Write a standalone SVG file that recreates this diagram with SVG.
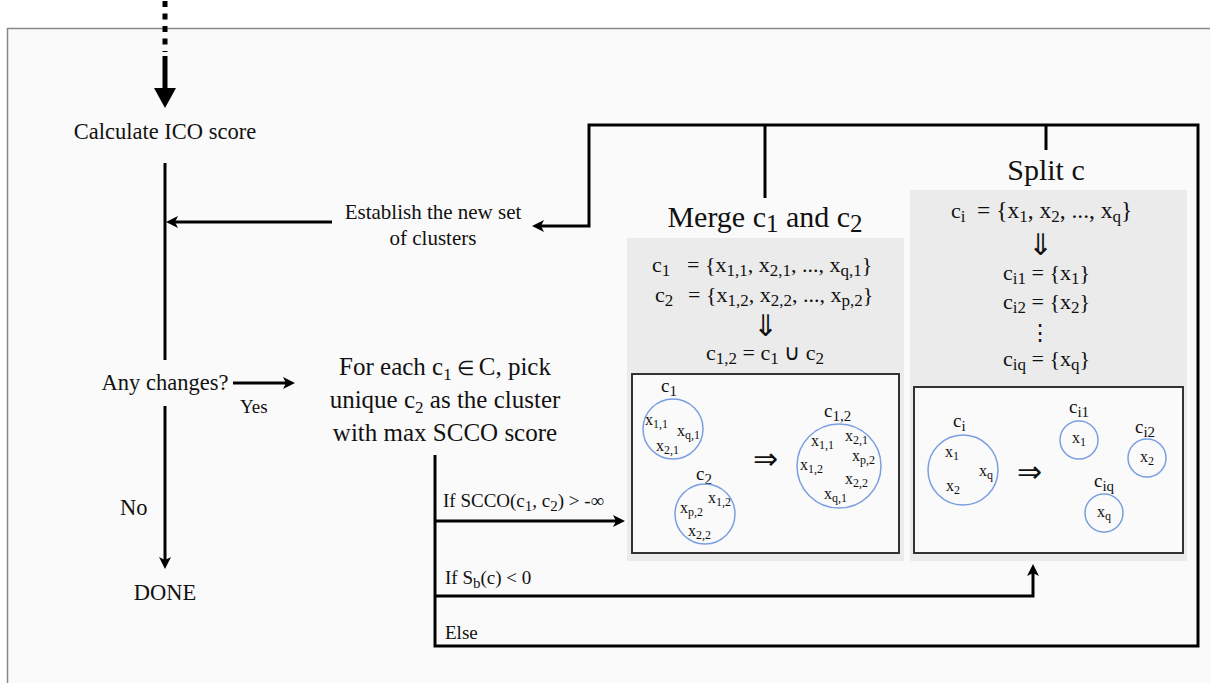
<svg xmlns="http://www.w3.org/2000/svg" width="1210" height="683" viewBox="0 0 1210 683">
<defs>
<marker id="ah" viewBox="0 0 12 12" refX="4" refY="6" markerWidth="12" markerHeight="12" markerUnits="userSpaceOnUse" orient="auto"><path d="M0,0 L12,6 L0,12 L3,6 z" fill="#000"/></marker>
</defs>
<style>
text{font-family:"Liberation Serif","Times New Roman",serif;fill:#111}
.t22{font-size:22.5px}
.t21{font-size:21px}
.t25{font-size:25px}
.t19{font-size:19px}
.t30{font-size:30px}
.f22{font-size:22px}
.f24{font-size:23.5px}
.dar{font-size:30px}
.s{font-size:17px}
.s15{font-size:15px}
.c19{font-size:19px}
.x15{font-size:16px}
.x11{font-size:12px}
.ln{fill:none;stroke:#000;stroke-width:3}
.panel{fill:#ebebeb}
.inner{fill:#fafafa;stroke:#333;stroke-width:2}
.cl{fill:none;stroke:#7a9fe0;stroke-width:1.5}
</style>
<rect x="7.5" y="28.5" width="1210" height="660" fill="#fafafa" stroke="#888" stroke-width="1.5"/>

<g id="connectors">
<path d="M165 1 V52" fill="none" stroke="#000" stroke-width="5" stroke-dasharray="6 6.5"/>
<path d="M165 56 V92" fill="none" stroke="#000" stroke-width="5"/>
<polygon points="154,88 176,88 165,108" fill="#000"/>
<path class="ln" d="M165 163 V360"/>
<path class="ln" d="M332 222 H174" marker-end="url(#ah)"/>
<path class="ln" d="M765 125 V198"/>
<path class="ln" d="M1046 125 V150"/>
<path class="ln" d="M435 455 V646 H1198 V125 H589 V226 H540" marker-end="url(#ah)"/>
<path class="ln" d="M233 383 H287" marker-end="url(#ah)"/>
<path class="ln" d="M165 406 V561" marker-end="url(#ah)"/>
<path class="ln" d="M435 521 H617" marker-end="url(#ah)"/>
<path class="ln" d="M435 596 H1033 V572" marker-end="url(#ah)"/>
</g>

<g id="calc"><text class="t22" x="165" y="139" text-anchor="middle">Calculate ICO score</text></g>
<g id="establish">
<text class="t21" x="433" y="219" text-anchor="middle">Establish the new set</text>
<text class="t21" x="433" y="245" text-anchor="middle">of clusters</text>
</g>
<g id="changes"><text class="t22" x="165" y="390" text-anchor="middle">Any changes?</text></g>
<g id="yes"><text class="t19" x="240" y="413">Yes</text></g>
<g id="no"><text class="t22" x="120" y="515">No</text></g>
<g id="done"><text class="t22" x="165" y="600" text-anchor="middle">DONE</text></g>
<g id="foreach">
<text class="t25" x="445" y="375" text-anchor="middle">For each c<tspan class="s" dy="5">1</tspan><tspan dy="-5" font-size="20px"> ∈ </tspan>C, pick</text>
<text class="t25" x="445" y="408" text-anchor="middle">unique c<tspan class="s" dy="5">2</tspan><tspan dy="-5"> as the cluster</tspan></text>
<text class="t25" x="445" y="441" text-anchor="middle">with max SCCO score</text>
</g>
<g id="branch-labels">
<text class="t19" x="443" y="507">If SCCO(c<tspan class="s15" dy="4">1</tspan><tspan dy="-4">, c</tspan><tspan class="s15" dy="4">2</tspan><tspan dy="-4">) &gt; -∞</tspan></text>
<text class="t19" x="445" y="584">If S<tspan class="s15" dy="4">b</tspan><tspan dy="-4">(c) &lt; 0</tspan></text>
<text class="t19" x="445" y="639">Else</text>
</g>

<g id="merge">
<text class="t30" x="765" y="227" text-anchor="middle">Merge c<tspan font-size="25px" dy="5">1</tspan><tspan dy="-5"> and c</tspan><tspan font-size="25px" dy="5">2</tspan></text>
<rect class="panel" x="627" y="238" width="277" height="323"/>
<text class="f22" x="652" y="272">c<tspan class="s" dy="4">1</tspan></text>
<text class="f22" x="687" y="272">= {x<tspan class="s" dy="4">1,1</tspan><tspan dy="-4">, x</tspan><tspan class="s" dy="4">2,1</tspan><tspan dy="-4">, ..., x</tspan><tspan class="s" dy="4">q,1</tspan><tspan dy="-4">}</tspan></text>
<text class="f22" x="655" y="302">c<tspan class="s" dy="4">2</tspan></text>
<text class="f22" x="688" y="302">= {x<tspan class="s" dy="4">1,2</tspan><tspan dy="-4">, x</tspan><tspan class="s" dy="4">2,2</tspan><tspan dy="-4">, ..., x</tspan><tspan class="s" dy="4">p,2</tspan><tspan dy="-4">}</tspan></text>
<text class="dar" x="765" y="336" text-anchor="middle">⇓</text>
<text class="f22" x="765" y="360" text-anchor="middle">c<tspan class="s" dy="4">1,2</tspan><tspan dy="-4"> = c</tspan><tspan class="s" dy="4">1</tspan><tspan dy="-4"> ∪ c</tspan><tspan class="s" dy="4">2</tspan></text>
<rect class="inner" x="632" y="374" width="267" height="179"/>
<text class="c19" x="661" y="392">c<tspan class="s15" dy="4">1</tspan></text>
<circle class="cl" cx="673" cy="429" r="30"/>
<text class="x15" x="645" y="425">x<tspan class="x11" dy="3">1,1</tspan></text>
<text class="x15" x="677" y="436">x<tspan class="x11" dy="3">q,1</tspan></text>
<text class="x15" x="656" y="451">x<tspan class="x11" dy="3">2,1</tspan></text>
<text class="c19" x="696" y="480">c<tspan class="s15" dy="4">2</tspan></text>
<circle class="cl" cx="705" cy="514" r="30"/>
<text class="x15" x="680" y="513">x<tspan class="x11" dy="3">p,2</tspan></text>
<text class="x15" x="708" y="503">x<tspan class="x11" dy="3">1,2</tspan></text>
<text class="x15" x="688" y="536">x<tspan class="x11" dy="3">2,2</tspan></text>
<text class="t30" x="765" y="469" text-anchor="middle">⇒</text>
<text class="c19" x="824" y="417">c<tspan class="s15" dy="4">1,2</tspan></text>
<circle class="cl" cx="839" cy="466" r="42"/>
<text class="x15" x="811" y="446">x<tspan class="x11" dy="3">1,1</tspan></text>
<text class="x15" x="845" y="441">x<tspan class="x11" dy="3">2,1</tspan></text>
<text class="x15" x="852" y="461">x<tspan class="x11" dy="3">p,2</tspan></text>
<text class="x15" x="800" y="470">x<tspan class="x11" dy="3">1,2</tspan></text>
<text class="x15" x="845" y="484">x<tspan class="x11" dy="3">2,2</tspan></text>
<text class="x15" x="824" y="499">x<tspan class="x11" dy="3">q,1</tspan></text>
</g>

<g id="split">
<text class="t30" x="1046" y="180" text-anchor="middle">Split c</text>
<rect class="panel" x="910" y="190" width="277" height="371"/>
<text class="f22" x="951" y="218">c<tspan class="s" dy="4">i</tspan></text>
<text class="f24" x="977" y="218">= {x<tspan class="s" dy="4">1</tspan><tspan dy="-4">, x</tspan><tspan class="s" dy="4">2</tspan><tspan dy="-4">, ..., x</tspan><tspan class="s" dy="4">q</tspan><tspan dy="-4">}</tspan></text>
<text class="dar" x="1040" y="255" text-anchor="middle">⇓</text>
<text class="f22" x="1003" y="280">c<tspan class="s" dy="4">i1</tspan><tspan dy="-4"> = {x</tspan><tspan class="s" dy="4">1</tspan><tspan dy="-4">}</tspan></text>
<text class="f22" x="1003" y="309">c<tspan class="s" dy="4">i2</tspan><tspan dy="-4"> = {x</tspan><tspan class="s" dy="4">2</tspan><tspan dy="-4">}</tspan></text>
<text class="f22" x="1040" y="340" text-anchor="middle">⋮</text>
<text class="f22" x="1003" y="366">c<tspan class="s" dy="4">iq</tspan><tspan dy="-4"> = {x</tspan><tspan class="s" dy="4">q</tspan><tspan dy="-4">}</tspan></text>
<rect class="inner" x="914" y="387" width="269" height="166"/>
<text class="c19" x="953" y="427">c<tspan class="s15" dy="4">i</tspan></text>
<circle class="cl" cx="963" cy="470" r="35"/>
<text class="x15" x="945" y="457">x<tspan class="x11" dy="3">1</tspan></text>
<text class="x15" x="979" y="476">x<tspan class="x11" dy="3">q</tspan></text>
<text class="x15" x="946" y="491">x<tspan class="x11" dy="3">2</tspan></text>
<text class="t30" x="1029" y="482" text-anchor="middle">⇒</text>
<text class="c19" x="1069" y="413">c<tspan class="s15" dy="4">i1</tspan></text>
<circle class="cl" cx="1079" cy="440" r="19"/>
<text class="x15" x="1072" y="443">x<tspan class="x11" dy="3">1</tspan></text>
<text class="c19" x="1135" y="433">c<tspan class="s15" dy="4">i2</tspan></text>
<circle class="cl" cx="1147" cy="458" r="19"/>
<text class="x15" x="1140" y="462">x<tspan class="x11" dy="3">2</tspan></text>
<text class="c19" x="1094" y="487">c<tspan class="s15" dy="4">iq</tspan></text>
<circle class="cl" cx="1104" cy="513" r="19"/>
<text class="x15" x="1097" y="517">x<tspan class="x11" dy="3">q</tspan></text>
</g>
</svg>
